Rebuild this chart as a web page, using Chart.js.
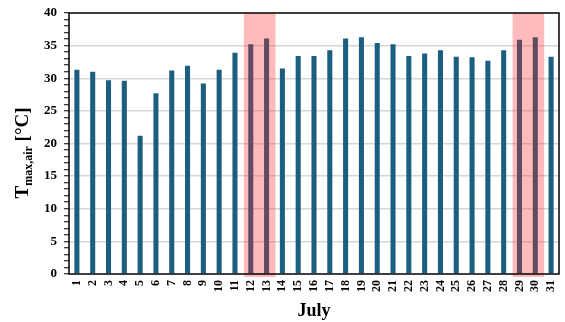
<!DOCTYPE html>
<html>
<head>
<meta charset="utf-8">
<script src="https://cdn.jsdelivr.net/npm/chart.js@4/dist/chart.umd.min.js"></script>
<style>
  html, body { margin: 0; padding: 0; background: #ffffff; }
  canvas { display: block; }
</style>
</head>
<body>
<canvas id="chart" width="565" height="322"></canvas>
<script>
// Daily maximum air temperature, July
const days = ['1','2','3','4','5','6','7','8','9','10','11','12','13','14','15','16',
              '17','18','19','20','21','22','23','24','25','26','27','28','29','30','31'];
const tmaxAir = [31.3, 31.0, 29.7, 29.6, 21.2, 27.7, 31.2, 31.9, 29.2, 31.3, 33.9,
                 35.2, 36.1, 31.5, 33.4, 33.4, 34.3, 36.1, 36.3, 35.4, 35.2, 33.4,
                 33.8, 34.3, 33.3, 33.2, 32.7, 34.3, 35.9, 36.3, 33.3];
// Highlighted periods (first day, last day)
const hotSpells = [['12', '13'], ['29', '30']];
const yMin = 0, yMax = 40, yMajorStep = 5, yMinorStep = 1;

const SERIF = "'Liberation Serif', 'Times New Roman', Times, serif";

// Shaded bands drawn over the bars for the highlighted periods
const bandPlugin = {
  id: 'bands',
  afterDatasetsDraw(chart) {
    const { ctx, chartArea, scales: { x } } = chart;
    const half = (x.getPixelForValue(1) - x.getPixelForValue(0)) / 2;
    ctx.save();
    ctx.fillStyle = 'rgba(255, 30, 30, 0.3)';
    hotSpells.forEach(([a, b]) => {
      const x0 = x.getPixelForValue(days.indexOf(a)) - half;
      const x1 = x.getPixelForValue(days.indexOf(b)) + half;
      ctx.fillRect(x0 + 1, chartArea.top, x1 - x0, chartArea.bottom - chartArea.top + 3);
    });
    ctx.restore();
  }
};

// Black frame round the plot area and the rotated y-axis title with subscript
const framePlugin = {
  id: 'frame',
  afterDraw(chart) {
    const { ctx, chartArea: ca } = chart;
    ctx.save();
    ctx.strokeStyle = '#000';
    ctx.lineWidth = 1.5;
    ctx.strokeRect(ca.left, ca.top, ca.right - ca.left, ca.bottom - ca.top);

    ctx.translate(28, 153);
    ctx.rotate(-Math.PI / 2);
    ctx.fillStyle = '#000';
    ctx.textBaseline = 'alphabetic';
    const big = 'bold 19px ' + SERIF, small = 'bold 12px ' + SERIF;
    const parts = [['T', big, 0], ['max,air', small, 4], [' [°C]', big, 0]];
    let total = 0;
    parts.forEach(([t, f]) => { ctx.font = f; total += ctx.measureText(t).width; });
    let cx = -total / 2;
    parts.forEach(([t, f, dy]) => {
      ctx.font = f;
      ctx.fillText(t, cx, dy);
      cx += ctx.measureText(t).width;
    });
    ctx.restore();
  }
};

new Chart(document.getElementById('chart'), {
  type: 'bar',
  data: {
    labels: days,
    datasets: [{
      data: tmaxAir,
      backgroundColor: '#1a5f80',
      borderWidth: 0,
      barPercentage: 0.32,
      categoryPercentage: 1.0
    }]
  },
  options: {
    responsive: false,
    animation: false,
    layout: { padding: { top: 13, right: 6, left: 0, bottom: 0 } },
    plugins: { legend: { display: false }, tooltip: { enabled: false } },
    scales: {
      x: {
        grid: { display: false, drawTicks: false },
        border: { display: false },
        ticks: {
          autoSkip: false, maxRotation: 90, minRotation: 90, padding: 6,
          color: '#000', font: { family: SERIF, size: 12, weight: 'bold', lineHeight: 0.4 }
        },
        title: {
          display: true, text: 'July', color: '#000',
          font: { family: SERIF, size: 18, weight: 'bold' },
          padding: { top: 0, bottom: 0 }
        },
        afterFit(scale) { scale.height = 48; }
      },
      y: {
        min: yMin, max: yMax, z: 1,
        border: { display: false },
        grid: {
          color: (c) => (c.tick && c.tick.value % yMajorStep === 0 &&
                         c.tick.value > yMin && c.tick.value < yMax) ? 'rgba(0,0,0,0.16)' : 'rgba(0,0,0,0)',
          lineWidth: 1.5,
          tickColor: '#000',
          tickLength: 5,
          tickWidth: 1
        },
        ticks: {
          stepSize: yMinorStep, autoSkip: false, padding: 7, color: '#000',
          font: { family: SERIF, size: 13, weight: 'bold', lineHeight: 0.4 },
          callback: (v) => (v % yMajorStep === 0 ? String(v) : '')
        },
        afterFit(scale) { scale.width = 69; }
      }
    }
  },
  plugins: [bandPlugin, framePlugin]
});
</script>
</body>
</html>
